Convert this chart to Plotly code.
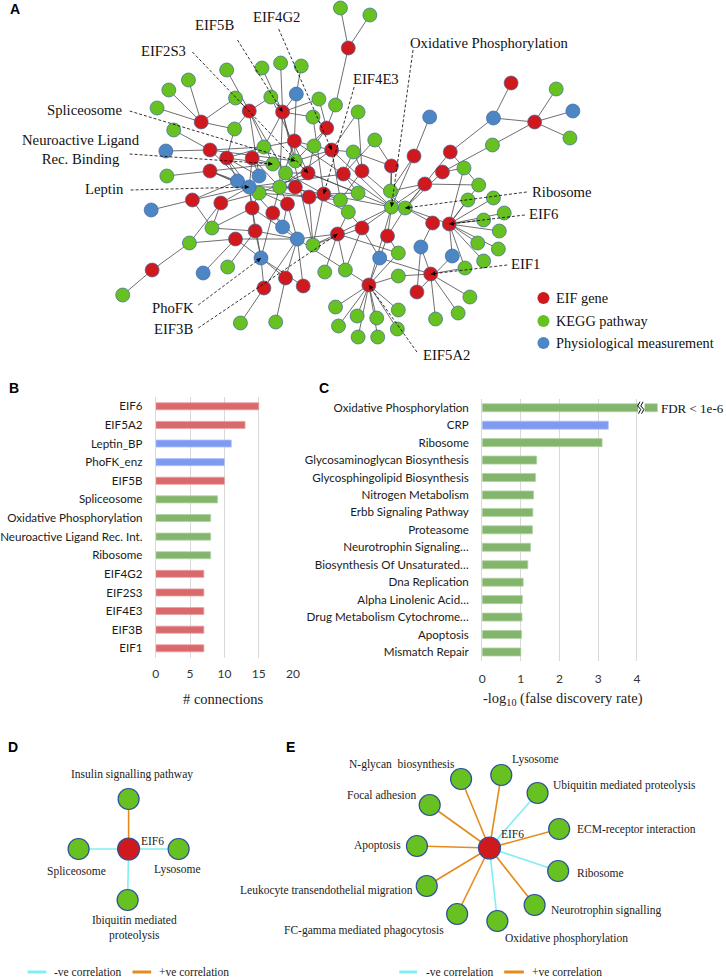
import plotly.graph_objects as go

W, H = 726, 978

# ---------------- Panel A: network layout (pixel positions) ----
node_x = [340, 348, 370, 224, 260, 279, 300, 185, 165, 295,
          233, 269, 318, 335, 153, 247, 281, 358, 198, 170,
          232, 312, 326, 293, 313, 162, 207, 262, 331, 353,
          224, 250, 271, 294, 284, 307, 343, 362, 163, 207,
          235, 257, 247, 257, 278, 294, 308, 323, 340, 358,
          189, 218, 147, 250, 271, 286, 348, 209, 253, 281,
          233, 296, 337, 362, 186, 312, 259, 225, 148, 200,
          324, 345, 284, 302, 262, 118, 335, 357, 238, 274,
          338, 514, 560, 577, 431, 496, 538, 574, 375, 495,
          415, 452, 392, 444, 466, 426, 481, 391, 392, 406,
          470, 496, 507, 434, 451, 486, 502, 388, 480, 501,
          422, 399, 380, 454, 486, 467, 432, 399, 369, 418,
          472, 399, 377, 437, 460, 398, 358, 378]
node_y = [8, 48, 15, 70, 68, 63, 66, 80, 90, 94,
          98, 97, 99, 105, 108, 111, 112, 112, 122, 130,
          129, 117, 128, 141, 146, 151, 150, 147, 150, 152,
          158, 158, 164, 161, 173, 173, 174, 171, 176, 171,
          181, 176, 187, 193, 187, 187, 197, 194, 200, 193,
          200, 203, 210, 208, 213, 204, 212, 228, 231, 227,
          239, 239, 234, 228, 243, 245, 258, 267, 270, 273,
          272, 270, 278, 286, 288, 295, 307, 316, 323, 322,
          326, 83, 89, 111, 117, 118, 122, 138, 140, 145,
          156, 152, 166, 172, 168, 184, 185, 191, 207, 208,
          200, 198, 213, 223, 224, 220, 231, 236, 243, 249,
          247, 253, 258, 256, 261, 268, 274, 276, 285, 292,
          297, 310, 318, 319, 313, 329, 337, 337]
node_type = list("GRGGGGGGGB"
                 "GGGGGRRGRG"
                 "GGRRGBRGRG"
                 "RRGGGRRRGR"
                 "BBBGGRRRGG"
                 "RRBRRRGGRB"
                 "RBRRGGBGRB"
                 "GGRRRGGGGG"
                 "GRGBBBRGGG"
                 "RRRRGRGGGG"
                 "GGGRRGGRGG"
                 "BGBBGGRGRR"
                 "GGGGGGGG")

edges = [(2, 1), (2, 3), (2, 14),
         (16, 4), (16, 11), (16, 21), (16, 33), (16, 35), (16, 12),
         (17, 5), (17, 6), (17, 12), (17, 28), (17, 34), (17, 45), (17, 66), (17, 10), (17, 22), (17, 13),
         (19, 8), (19, 9), (19, 15), (19, 11), (19, 21),
         (23, 13), (23, 14), (23, 22), (23, 25), (23, 34),
         (24, 10), (24, 28), (24, 34), (24, 45), (24, 25), (24, 99),
         (27, 20), (27, 26), (27, 28), (27, 43), (27, 34),
         (29, 18), (29, 30), (29, 25), (29, 34), (29, 99), (29, 45), (29, 49),
         (31, 28), (31, 43), (31, 33), (31, 41), (31, 21),
         (32, 28), (32, 33), (32, 43), (32, 45),
         (36, 34), (36, 35), (36, 25), (36, 99), (36, 44), (36, 12), (36, 50),
         (37, 89), (37, 30), (37, 50), (37, 43),
         (38, 18), (38, 30), (38, 100), (38, 49),
         (40, 39), (40, 41), (40, 43), (40, 33), (40, 44),
         (46, 35), (46, 45), (46, 43), (46, 57),
         (47, 44), (47, 49), (47, 43), (47, 66),
         (48, 49), (48, 50), (48, 99), (48, 45), (48, 22), (48, 35), (48, 66),
         (51, 53), (51, 41), (51, 43), (51, 58),
         (52, 65), (52, 43), (52, 44), (52, 58),
         (54, 43), (54, 44), (54, 58), (54, 67), (54, 62),
         (55, 43), (55, 45), (55, 60), (55, 67), (55, 62),
         (56, 45), (56, 60), (56, 62), (56, 43),
         (59, 68), (59, 58), (59, 62), (59, 67), (59, 43),
         (61, 65), (61, 70), (61, 62), (61, 67),
         (63, 71), (63, 72), (63, 66), (63, 112), (63, 62), (63, 57), (63, 99),
         (64, 57), (64, 99), (64, 66), (64, 113), (64, 72),
         (69, 65), (69, 76),
         (73, 62), (73, 67), (73, 80),
         (74, 62), (74, 67),
         (75, 79), (75, 62), (75, 67),
         (82, 86),
         (87, 83), (87, 84), (87, 88), (87, 86), (87, 90),
         (10, 7), (42, 31), (42, 16), (42, 32),
         (91, 85), (91, 99), (91, 98),
         (92, 86), (92, 100), (92, 97),
         (93, 98), (93, 99), (93, 89), (93, 30),
         (94, 95), (94, 90), (94, 100),
         (96, 99), (96, 100), (96, 98), (96, 97),
         (104, 100), (104, 111),
         (105, 97), (105, 101), (105, 102), (105, 103), (105, 106), (105, 107), (105, 109),
         (105, 110), (105, 115), (105, 116), (105, 114), (105, 100), (105, 95),
         (108, 100), (108, 112), (108, 113), (108, 99),
         (117, 111), (117, 113), (117, 116), (117, 121), (117, 124), (117, 125), (117, 118),
         (119, 77), (119, 78), (119, 81), (119, 122), (119, 123), (119, 126), (119, 127),
         (119, 128), (119, 118), (119, 113), (119, 62), (119, 112), (119, 99),
         (120, 111), (120, 114)]

# callouts: label text, label centre, dashed-line start, target node id
callout_text = ["EIF5B", "EIF4G2", "EIF2S3", "EIF4E3", "Oxidative Phosphorylation",
                "Spliceosome", "Neuroactive Ligand<br>Rec. Binding", "Leptin", "Ribosome",
                "EIF6", "EIF1", "PhoFK", "EIF3B", "EIF5A2"]
callout_lx = [212, 275, 160, 376, 492, 80, 75, 99, 566, 547, 529, 169, 170, 448]
callout_ly = [25, 17, 51, 79, 43, 110, 149, 189, 192, 214, 264, 308, 329, 355]
callout_sx = [235, 277, 189, 354, 414, 125, 125, 126, 530, 528, 510, 195, 195, 418]
callout_sy = [40, 29, 52, 87, 50, 111, 154, 190, 192, 215, 265, 305, 328, 352]
callout_node = [17, 29, 36, 48, 99, 34, 33, 43, 100, 105, 117, 67, 63, 119]

legend_a_text = ["EIF gene", "KEGG pathway", "Physiological measurement"]
legend_a_type = ["R", "G", "B"]
legend_a_y = [298, 321, 343]

# ---------------- Panel B ----------------
b_labels = ["EIF6", "EIF5A2", "Leptin_BP", "PhoFK_enz", "EIF5B", "Spliceosome",
            "Oxidative Phosphorylation", "Neuroactive Ligand Rec. Int.", "Ribosome",
            "EIF4G2", "EIF2S3", "EIF4E3", "EIF3B", "EIF1"]
b_values = [15, 13, 11, 10, 10, 9, 8, 8, 8, 7, 7, 7, 7, 7]
b_kind = ["R", "R", "B", "B", "R", "G", "G", "G", "G", "R", "R", "R", "R", "R"]
b_ticks = [0, 5, 10, 15, 20]

# ---------------- Panel C ----------------
c_labels = ["Oxidative Phosphorylation", "CRP", "Ribosome", "Glycosaminoglycan Biosynthesis",
            "Glycosphingolipid Biosynthesis", "Nitrogen Metabolism", "Erbb Signaling Pathway",
            "Proteasome", "Neurotrophin Signaling…", "Biosynthesis Of Unsaturated…",
            "Dna Replication", "Alpha Linolenic Acid…", "Drug Metabolism Cytochrome…",
            "Apoptosis", "Mismatch Repair"]
c_values = [4.53, 3.26, 3.10, 1.41, 1.38, 1.33, 1.31, 1.30, 1.25, 1.18, 1.06, 1.04, 1.03, 1.02, 1.00]
c_kind = ["G", "B"] + ["G"] * 13
c_ticks = [0, 1, 2, 3, 4]

# ---------------- Panel D ----------------
d_center = (124, 849)
d_nodes_x = [124, 73, 175, 123]
d_nodes_y = [799, 849, 849, 900]
d_sign = ["+", "-", "-", "-"]
d_label_text = ["Insulin signalling pathway", "Spliceosome", "Lysosome",
                "Ibiquitin mediated<br>proteolysis", "EIF6"]
d_label_x = [127, 71, 174, 130, 148]
d_label_y = [774, 871, 869, 928, 841]

# ---------------- Panel E ----------------
e_center = (492, 848)
e_nodes_x = [463, 504, 541, 563, 562, 538, 500, 459, 428, 418, 431]
e_nodes_y = [779, 775, 793, 829, 871, 905, 921, 914, 886, 846, 805]
e_sign = ["+", "+", "-", "+", "-", "+", "-", "+", "+", "+", "+"]
e_label_text = ["N-glycan  biosynthesis", "Lysosome", "Ubiquitin mediated proteolysis",
                "ECM-receptor interaction", "Ribosome", "Neurotrophin signalling",
                "Oxidative phosphorylation", "FC-gamma mediated phagocytosis",
                "Leukocyte transendothelial migration", "Apoptosis", "Focal adhesion", "EIF6"]
e_label_x = [403, 539, 555, 579, 579, 553, 506, 448, 416, 404, 382, 515]
e_label_y = [764, 759, 785, 829, 873, 910, 938, 930, 890, 845, 795, 834]
e_label_anchor = ["center", "center", "left", "left", "left", "left", "left",
                  "right", "right", "right", "center", "center"]

# ---------------- styles ----------------
NODE_COL = {"R": "#d0191d", "G": "#66c121", "B": "#4d86c4"}
BAR_COL = {"R": "#d9696b", "G": "#84b56d", "B": "#7f9af2"}
BAR_EDGE = {"R": "#e7a0a2", "G": "#b3d3a4", "B": "#b2c2f7"}
CYAN, ORANGE = "#80eff1", "#e38c1d"
SERIF = "Liberation Serif"
SANS = "Lato"

fig = go.Figure()

# --- network edges
ex, ey = [], []
for a, b in edges:
    ex += [node_x[a - 1], node_x[b - 1], None]
    ey += [node_y[a - 1], node_y[b - 1], None]
fig.add_trace(go.Scatter(x=ex, y=ey, mode="lines", line=dict(color="#4a4a4a", width=0.8),
                         hoverinfo="skip", showlegend=False))
# --- network nodes
for t in ["G", "B", "R"]:
    idx = [i for i, k in enumerate(node_type) if k == t]
    fig.add_trace(go.Scatter(x=[node_x[i] for i in idx], y=[node_y[i] for i in idx], mode="markers",
                             marker=dict(size=14, color=NODE_COL[t], line=dict(color="#41679f", width=0.7)),
                             hoverinfo="skip", showlegend=False))
# --- dashed callouts
annotations = []
for i, txt in enumerate(callout_text):
    tx, ty = node_x[callout_node[i] - 1], node_y[callout_node[i] - 1]
    fig.add_trace(go.Scatter(x=[callout_sx[i], tx], y=[callout_sy[i], ty], mode="lines",
                             line=dict(color="black", width=0.8, dash="3px,2px"),
                             hoverinfo="skip", showlegend=False))
    dx, dy = tx - callout_sx[i], ty - callout_sy[i]
    n = (dx * dx + dy * dy) ** 0.5
    annotations.append(dict(x=tx, y=ty, ax=tx - dx / n * 6, ay=ty - dy / n * 6, xref="x", yref="y",
                            axref="x", ayref="y", text="", showarrow=True, arrowhead=2, arrowsize=0.9,
                            arrowwidth=1, arrowcolor="black", standoff=0))
    annotations.append(dict(x=callout_lx[i], y=callout_ly[i], xref="x", yref="y", text=txt,
                            showarrow=False, font=dict(family=SERIF, size=14.7, color="#111")))
# --- legend A
for t, txt, yy in zip(legend_a_type, legend_a_text, legend_a_y):
    fig.add_trace(go.Scatter(x=[547], y=[yy], mode="markers",
                             marker=dict(size=12, color=NODE_COL[t], line=dict(width=0)),
                             hoverinfo="skip", showlegend=False))
    annotations.append(dict(x=558, y=yy, xref="x", yref="y", text=txt, xanchor="left",
                            showarrow=False, font=dict(family=SERIF, size=14.3, color="#111")))

# --- panels D and E
for (cx, cy), xs, ys, signs in [(d_center, d_nodes_x, d_nodes_y, d_sign),
                                (e_center, e_nodes_x, e_nodes_y, e_sign)]:
    for x, y, s in zip(xs, ys, signs):
        fig.add_trace(go.Scatter(x=[cx, x], y=[cy, y], mode="lines",
                                 line=dict(color=ORANGE if s == "+" else CYAN, width=1.6),
                                 hoverinfo="skip", showlegend=False))
    fig.add_trace(go.Scatter(x=xs, y=ys, mode="markers",
                             marker=dict(size=21, color=NODE_COL["G"], line=dict(color="#2f4f9c", width=1.2)),
                             hoverinfo="skip", showlegend=False))
    fig.add_trace(go.Scatter(x=[cx], y=[cy], mode="markers",
                             marker=dict(size=22, color=NODE_COL["R"], line=dict(color="#2f4f9c", width=1.2)),
                             hoverinfo="skip", showlegend=False))
for txt, x, y in zip(d_label_text, d_label_x, d_label_y):
    annotations.append(dict(x=x, y=y, xref="x", yref="y", text=txt, showarrow=False,
                            font=dict(family=SERIF, size=11.5, color="#222")))
for txt, x, y, anc in zip(e_label_text, e_label_x, e_label_y, e_label_anchor):
    annotations.append(dict(x=x, y=y, xref="x", yref="y", text=txt, showarrow=False, xanchor=anc,
                            font=dict(family=SERIF, size=11.5, color="#222")))
# correlation legends
for x0, x1, tx, ty in [(21, 40, 46, 972), (400, 418, 425, 972)]:
    fig.add_trace(go.Scatter(x=[x0, x1], y=[ty, ty], mode="lines", line=dict(color=CYAN, width=3),
                             hoverinfo="skip", showlegend=False))
    annotations.append(dict(x=tx, y=ty, xref="x", yref="y", text="-ve correlation", xanchor="left",
                            showarrow=False, font=dict(family=SERIF, size=11.5, color="#222")))
for x0, x1, tx, ty in [(128, 147, 153, 972), (507, 527, 533, 972)]:
    fig.add_trace(go.Scatter(x=[x0, x1], y=[ty, ty], mode="lines", line=dict(color=ORANGE, width=3),
                             hoverinfo="skip", showlegend=False))
    annotations.append(dict(x=tx, y=ty, xref="x", yref="y", text="+ve correlation", xanchor="left",
                            showarrow=False, font=dict(family=SERIF, size=11.5, color="#222")))

# --- bar charts
fig.add_trace(go.Bar(x=b_values, y=b_labels, orientation="h", width=0.38,
                     marker=dict(color=[BAR_COL[k] for k in b_kind],
                                 line=dict(color=[BAR_EDGE[k] for k in b_kind], width=0.8)),
                     xaxis="x2", yaxis="y2", hoverinfo="skip", showlegend=False))
fig.add_trace(go.Bar(x=c_values, y=c_labels, orientation="h", width=0.46,
                     marker=dict(color=[BAR_COL[k] for k in c_kind],
                                 line=dict(color=[BAR_EDGE[k] for k in c_kind], width=0.8)),
                     xaxis="x3", yaxis="y3", hoverinfo="skip", showlegend=False))

# axis titles and panel letters
annotations += [
    dict(x=220, y=699, xref="x", yref="y", text="# connections", showarrow=False,
         font=dict(family=SERIF, size=14.5, color="#222")),
    dict(x=567, y=699, xref="x", yref="y", text="-log<sub>10</sub> (false discovery rate)", showarrow=False,
         font=dict(family=SERIF, size=14.5, color="#222")),
    dict(x=665, y=408, xref="x", yref="y", text="FDR < 1e-6", xanchor="left", showarrow=False,
         font=dict(family=SERIF, size=13, color="#111")),
]
for letter, x, y in [("A", 8, 9), ("B", 7, 388), ("C", 323, 388), ("D", 6, 747), ("E", 289, 747)]:
    annotations.append(dict(x=x, y=y, xref="x", yref="y", text="<b>%s</b>" % letter, xanchor="center",
                            showarrow=False, font=dict(family="Liberation Sans", size=14, color="black")))

# axis break marker on the first C bar
shapes = [dict(type="rect", xref="x3", yref="y3", x0=4.03, x1=4.2, y0=-0.34, y1=0.34,
               fillcolor="white", line=dict(width=0), layer="above")]
for off in [0.0, 0.08]:
    pts = [(4.08 + off, -0.34), (4.02 + off, -0.1), (4.1 + off, 0.1), (4.04 + off, 0.34)]
    for (xa, ya), (xb, yb) in zip(pts[:-1], pts[1:]):
        shapes.append(dict(type="line", xref="x3", yref="y3", x0=xa, y0=ya, x1=xb, y1=yb,
                           line=dict(color="black", width=1), layer="above"))


def px(v):
    return v / W


def py(v):
    return 1 - v / H


grid = "#d9d9d9"
fig.update_layout(
    width=W, height=H, autosize=False, margin=dict(l=0, r=0, t=0, b=0),
    paper_bgcolor="white", plot_bgcolor="rgba(0,0,0,0)",
    xaxis=dict(domain=[0, 1], range=[0, W], visible=False, fixedrange=True),
    yaxis=dict(domain=[0, 1], range=[H, 0], visible=False, fixedrange=True),
    xaxis2=dict(domain=[px(151.7), px(291.7)], range=[0, 20], tickvals=b_ticks, anchor="y2",
                showgrid=True, gridcolor=grid, zeroline=False, showline=False, ticks="",
                ticklabelstandoff=7, tickfont=dict(family=SANS, size=12, color="#333")),
    yaxis2=dict(domain=[py(657.6), py(397)], anchor="x2", autorange="reversed", type="category",
                showline=True, linecolor=grid, showgrid=False, ticks="", ticklabelstandoff=10,
                tickfont=dict(family=SANS, size=11.6, color="#1a1a1a")),
    xaxis3=dict(domain=[px(484.5), px(664)], range=[0, 4.55], tickvals=c_ticks, anchor="y3",
                showgrid=True, gridcolor=grid, zeroline=False, showline=False, ticks="",
                ticklabelstandoff=9, tickfont=dict(family=SANS, size=12, color="#333")),
    yaxis3=dict(domain=[py(660.7), py(399)], anchor="x3", autorange="reversed", type="category",
                showline=True, linecolor=grid, showgrid=False, ticks="", ticklabelstandoff=10,
                tickfont=dict(family=SANS, size=11.6, color="#1a1a1a")),
    annotations=annotations, shapes=shapes, showlegend=False,
)

fig.write_html("out.html", config={"displayModeBar": False, "staticPlot": True},
               post_script="document.body.style.margin='0';document.body.style.padding='0';"
                           "document.body.style.overflow='hidden';")
